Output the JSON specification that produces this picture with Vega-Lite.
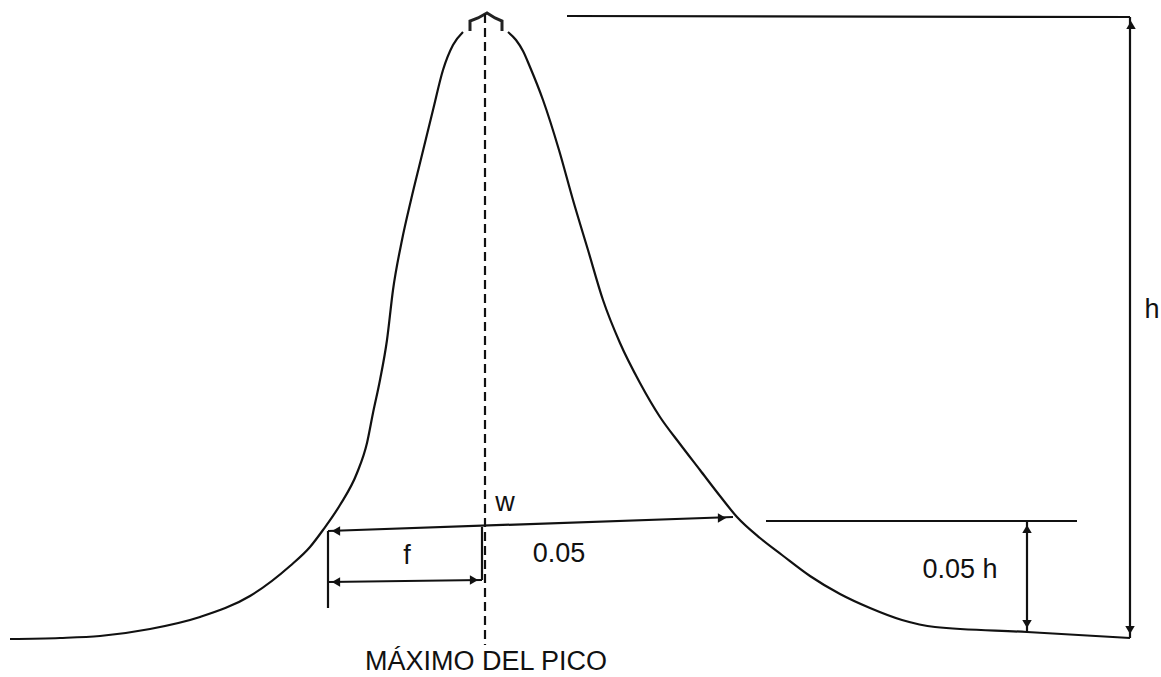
{
  "$schema": "https://vega.github.io/schema/vega-lite/v6.json",
  "width": 1161,
  "height": 677,
  "autosize": {"type": "fit", "contains": "padding"},
  "padding": 0,
  "background": "white",
  "config": {"view": {"stroke": null}, "axis": {"disable": true}},
  "datasets": {
    "curve": [
      {"i": 1, "x": 10, "y": 639},
      {"i": 2, "x": 60, "y": 638},
      {"i": 3, "x": 100, "y": 636},
      {"i": 4, "x": 150, "y": 629},
      {"i": 5, "x": 200, "y": 617},
      {"i": 6, "x": 250, "y": 596},
      {"i": 7, "x": 290, "y": 566},
      {"i": 8, "x": 310, "y": 547},
      {"i": 9, "x": 323, "y": 530},
      {"i": 10, "x": 340, "y": 505},
      {"i": 11, "x": 357, "y": 473},
      {"i": 12, "x": 367, "y": 443},
      {"i": 13, "x": 373, "y": 413},
      {"i": 14, "x": 380, "y": 380},
      {"i": 15, "x": 387, "y": 340},
      {"i": 16, "x": 393, "y": 290},
      {"i": 17, "x": 402, "y": 240},
      {"i": 18, "x": 411, "y": 200},
      {"i": 19, "x": 420, "y": 163},
      {"i": 20, "x": 433, "y": 110},
      {"i": 21, "x": 443, "y": 70},
      {"i": 22, "x": 453, "y": 45},
      {"i": 23, "x": 463, "y": 32}
    ],
    "curveRight": [
      {"i": 1, "x": 508, "y": 32},
      {"i": 2, "x": 516, "y": 40},
      {"i": 3, "x": 523, "y": 51},
      {"i": 4, "x": 530, "y": 67},
      {"i": 5, "x": 543, "y": 100},
      {"i": 6, "x": 559, "y": 150},
      {"i": 7, "x": 573, "y": 200},
      {"i": 8, "x": 588, "y": 250},
      {"i": 9, "x": 603, "y": 300},
      {"i": 10, "x": 620, "y": 343},
      {"i": 11, "x": 640, "y": 383},
      {"i": 12, "x": 660, "y": 417},
      {"i": 13, "x": 680, "y": 444},
      {"i": 14, "x": 700, "y": 470},
      {"i": 15, "x": 720, "y": 496},
      {"i": 16, "x": 737, "y": 517},
      {"i": 17, "x": 760, "y": 538},
      {"i": 18, "x": 782, "y": 555},
      {"i": 19, "x": 810, "y": 576},
      {"i": 20, "x": 840, "y": 594},
      {"i": 21, "x": 870, "y": 608},
      {"i": 22, "x": 902, "y": 620},
      {"i": 23, "x": 935, "y": 627},
      {"i": 24, "x": 1027, "y": 632},
      {"i": 25, "x": 1130, "y": 638}
    ],
    "cap": [
      {"i": 1, "x": 470, "y": 31},
      {"i": 2, "x": 470, "y": 21},
      {"i": 3, "x": 478, "y": 18},
      {"i": 4, "x": 487, "y": 13},
      {"i": 5, "x": 495, "y": 18},
      {"i": 6, "x": 502, "y": 21},
      {"i": 7, "x": 502, "y": 31}
    ],
    "segments": [
      {"x": 567, "y": 16, "x2": 1130, "y2": 17},
      {"x": 1130, "y": 17, "x2": 1130, "y2": 638},
      {"x": 766, "y": 521, "x2": 1077, "y2": 521},
      {"x": 1027, "y": 521, "x2": 1027, "y2": 632},
      {"x": 328, "y": 531, "x2": 733, "y2": 517},
      {"x": 328, "y": 531, "x2": 328, "y2": 608},
      {"x": 328, "y": 582, "x2": 482, "y2": 580},
      {"x": 482, "y": 527, "x2": 482, "y2": 580}
    ],
    "dashed": [
      {"x": 485, "y": 14, "x2": 485, "y2": 645}
    ],
    "arrows": [
      {"x": 336, "y": 531, "dir": "left"},
      {"x": 722, "y": 518, "dir": "right"},
      {"x": 336, "y": 582, "dir": "left"},
      {"x": 474, "y": 580, "dir": "right"},
      {"x": 1027, "y": 529, "dir": "up"},
      {"x": 1027, "y": 624, "dir": "down"},
      {"x": 1131, "y": 25, "dir": "up"},
      {"x": 1130, "y": 630, "dir": "down"}
    ],
    "labels": [
      {"x": 505, "y": 503, "t": "w"},
      {"x": 407, "y": 556, "t": "f"},
      {"x": 559, "y": 554, "t": "0.05"},
      {"x": 960, "y": 570, "t": "0.05 h"},
      {"x": 1152, "y": 310, "t": "h"},
      {"x": 486, "y": 662, "t": "MÁXIMO DEL PICO"}
    ]
  },
  "layer": [
    {
      "data": {"name": "curve"},
      "mark": {"type": "line", "color": "#111", "strokeWidth": 2.2, "interpolate": "monotone"},
      "encoding": {
        "x": {"field": "x", "type": "quantitative", "scale": {"domain": [0, 1161], "nice": false, "zero": false}},
        "y": {"field": "y", "type": "quantitative", "scale": {"domain": [0, 677], "nice": false, "zero": false, "reverse": true}},
        "order": {"field": "i"}
      }
    },
    {
      "data": {"name": "curveRight"},
      "mark": {"type": "line", "color": "#111", "strokeWidth": 2.2, "interpolate": "monotone"},
      "encoding": {
        "x": {"field": "x", "type": "quantitative"},
        "y": {"field": "y", "type": "quantitative"},
        "order": {"field": "i"}
      }
    },
    {
      "data": {"name": "cap"},
      "mark": {"type": "line", "color": "#222", "strokeWidth": 3},
      "encoding": {
        "x": {"field": "x", "type": "quantitative"},
        "y": {"field": "y", "type": "quantitative"},
        "order": {"field": "i"}
      }
    },
    {
      "data": {"name": "segments"},
      "mark": {"type": "rule", "color": "#111", "strokeWidth": 2.2},
      "encoding": {
        "x": {"field": "x", "type": "quantitative"},
        "y": {"field": "y", "type": "quantitative"},
        "x2": {"field": "x2"},
        "y2": {"field": "y2"}
      }
    },
    {
      "data": {"name": "dashed"},
      "mark": {"type": "rule", "color": "#111", "strokeWidth": 2.2, "strokeDash": [9, 5]},
      "encoding": {
        "x": {"field": "x", "type": "quantitative"},
        "y": {"field": "y", "type": "quantitative"},
        "x2": {"field": "x2"},
        "y2": {"field": "y2"}
      }
    },
    {
      "data": {"name": "arrows"},
      "mark": {"type": "point", "filled": true, "color": "#111", "opacity": 1, "size": 90},
      "encoding": {
        "x": {"field": "x", "type": "quantitative"},
        "y": {"field": "y", "type": "quantitative"},
        "shape": {
          "field": "dir",
          "type": "nominal",
          "scale": {"domain": ["left", "right", "up", "down"], "range": ["triangle-left", "triangle-right", "triangle-up", "triangle-down"]},
          "legend": null
        }
      }
    },
    {
      "data": {"name": "labels"},
      "mark": {"type": "text", "font": "Liberation Sans", "fontSize": 27, "color": "#111", "align": "center", "baseline": "middle"},
      "encoding": {
        "x": {"field": "x", "type": "quantitative"},
        "y": {"field": "y", "type": "quantitative"},
        "text": {"field": "t"}
      }
    }
  ]
}
